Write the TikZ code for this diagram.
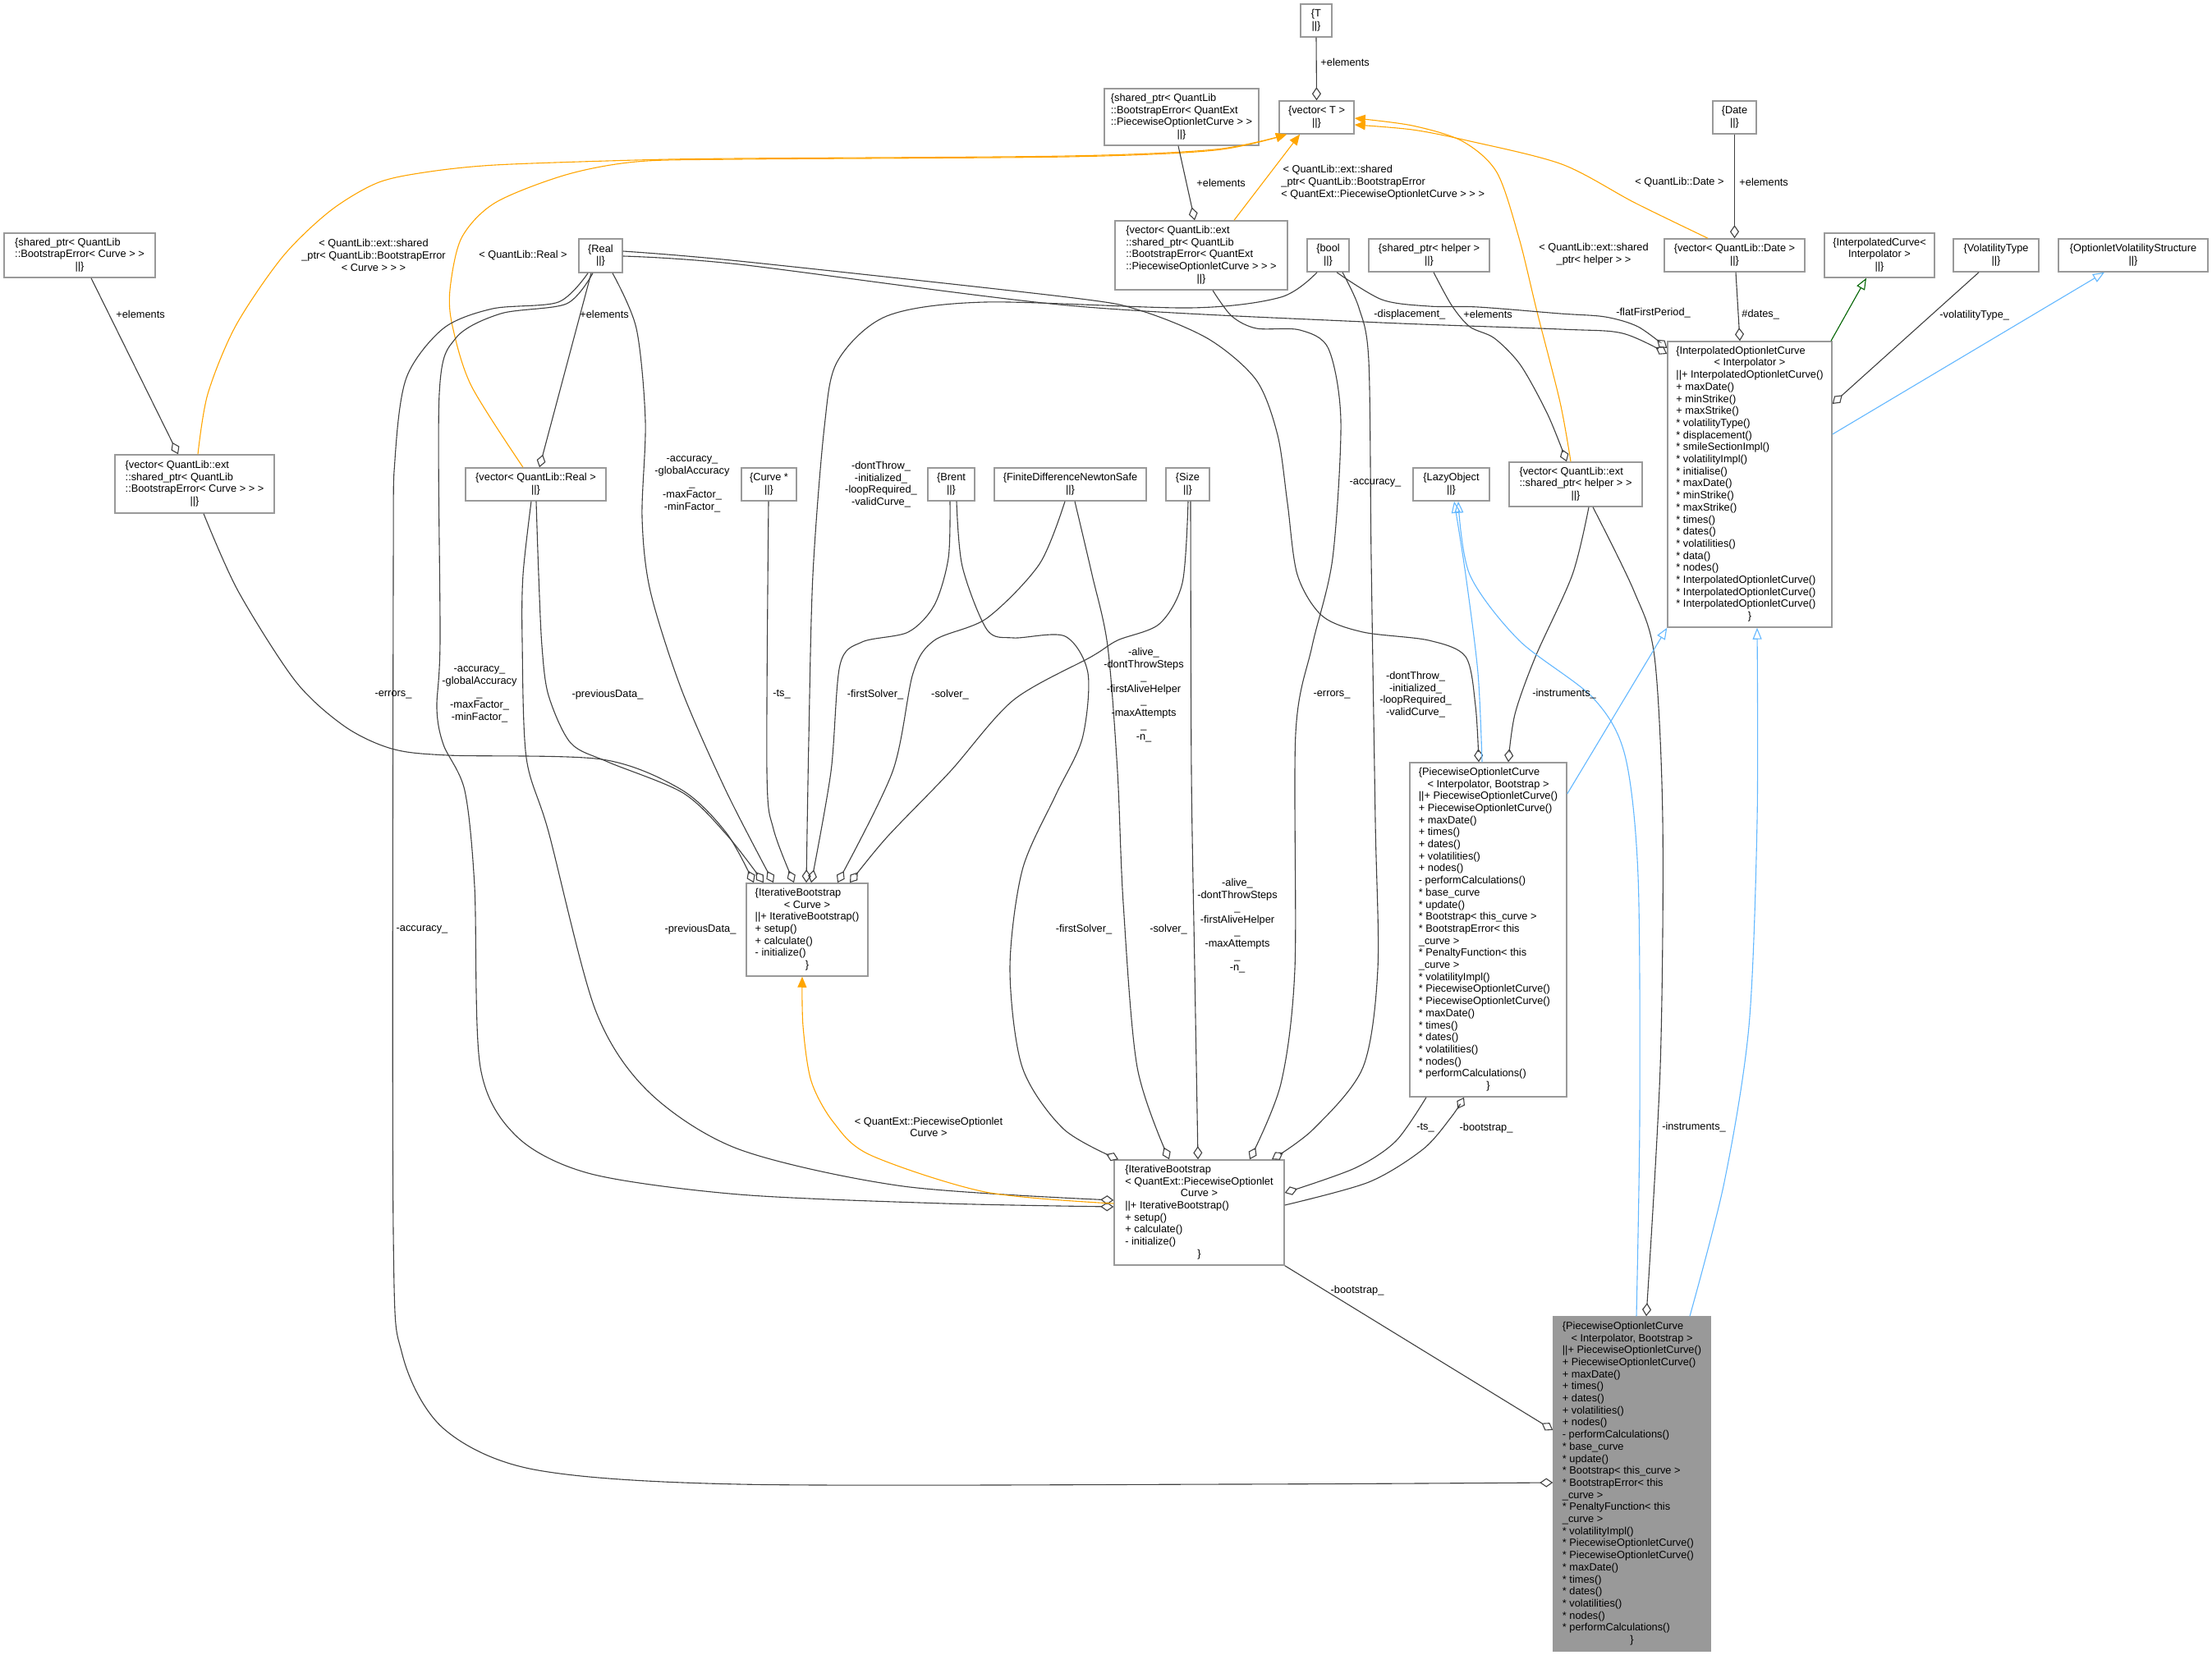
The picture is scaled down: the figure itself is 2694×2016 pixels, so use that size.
\documentclass[tikz,border=0pt]{standalone}
\usepackage{fontspec}
\setmainfont{Liberation Sans}
\usetikzlibrary{arrows.meta}
\definecolor{egray}{HTML}{404040}
\definecolor{bgray}{HTML}{999999}
\definecolor{dorange}{HTML}{FFA500}
\definecolor{lblue}{HTML}{63B8FF}
\definecolor{dgreen}{HTML}{006400}
\definecolor{mfill}{HTML}{999999}
\newcommand{\ctr}[1]{\multicolumn{1}{@{}c@{}}{#1}}
\newcommand{\mkbox}[7][]{\node[box,#1,minimum width={(#5-#3)*0.5},minimum height={(#6-#4)*0.5}] (#2) at ({(#3+#5)/2},{(#4+#6)/2}) {\begin{tabular}{@{}l@{}}#7\end{tabular}};}
\newcommand{\POCtext}{\{PiecewiseOptionletCurve\\
\ctr{< Interpolator, Bootstrap >}\\
||+ PiecewiseOptionletCurve()\\
+ PiecewiseOptionletCurve()\\
+ maxDate()\\
+ times()\\
+ dates()\\
+ volatilities()\\
+ nodes()\\
- performCalculations()\\
{}* base\_curve\\
{}* update()\\
{}* Bootstrap< this\_curve >\\
{}* BootstrapError< this\\
\_curve >\\
{}* PenaltyFunction< this\\
\_curve >\\
{}* volatilityImpl()\\
{}* PiecewiseOptionletCurve()\\
{}* PiecewiseOptionletCurve()\\
{}* maxDate()\\
{}* times()\\
{}* dates()\\
{}* volatilities()\\
{}* nodes()\\
{}* performCalculations()\\
\ctr{\}}}
\begin{document}
\begin{tikzpicture}[x=0.5pt,y=-0.5pt,
  box/.style={draw=bgray,line width=0.75pt,fill=white,inner sep=0pt,font=\fontsize{6.4}{7.35}\selectfont},
  lab/.style={inner sep=0pt,font=\fontsize{6.4}{7.35}\selectfont,align=center},
  agg/.style={draw=egray,line width=0.55pt,-{Diamond[open,length=8pt,width=5.5pt]}},
  tmpl/.style={draw=dorange,line width=0.55pt,-{Triangle[length=6.5pt,width=5.5pt,fill=dorange]}},
  inhb/.style={draw=lblue,line width=0.55pt,-{Triangle[open,length=7pt,width=5.5pt]}},
  inhg/.style={draw=dgreen,line width=0.55pt,-{Triangle[open,length=7pt,width=5.5pt]}},
  sm/.style={smooth,tension=0.5}]
\fill[white] (0,0) rectangle (2694,2016);
\useasboundingbox (0,0) rectangle (2694,2016);

% ---------- nodes ----------
\mkbox{nT}{1584}{5}{1622}{45}{\ctr{\{T}\\\ctr{||\}}}
\mkbox{nVT}{1558}{123}{1649}{163}{\ctr{\{vector< T >}\\\ctr{||\}}}
\mkbox{nSPQ}{1345}{108}{1533}{177}{\{shared\_ptr< QuantLib\\::BootstrapError< QuantExt\\::PiecewiseOptionletCurve > >\\\ctr{||\}}}
\mkbox{nDate}{2086}{123}{2139}{163}{\ctr{\{Date}\\\ctr{||\}}}
\mkbox{nSPC}{5}{284}{189}{338}{\{shared\_ptr< QuantLib\\::BootstrapError< Curve > >\\\ctr{||\}}}
\mkbox{nReal}{705}{291}{758}{332}{\ctr{\{Real}\\\ctr{||\}}}
\mkbox{nVQ}{1358}{269}{1568}{353}{\{vector< QuantLib::ext\\::shared\_ptr< QuantLib\\::BootstrapError< QuantExt\\::PiecewiseOptionletCurve > > >\\\ctr{||\}}}
\mkbox{nBool}{1592}{291}{1643}{331}{\ctr{\{bool}\\\ctr{||\}}}
\mkbox{nSPH}{1667}{291}{1814}{331}{\ctr{\{shared\_ptr< helper >}\\\ctr{||\}}}
\mkbox{nVD}{2027}{291}{2198}{331}{\ctr{\{vector< QuantLib::Date >}\\\ctr{||\}}}
\mkbox{nIC}{2222}{284}{2356}{338}{\ctr{\{InterpolatedCurve<}\\\ctr{Interpolator >}\\\ctr{||\}}}
\mkbox{nVolT}{2379}{291}{2483}{331}{\ctr{\{VolatilityType}\\\ctr{||\}}}
\mkbox{nOVS}{2507}{291}{2689}{331}{\ctr{\{OptionletVolatilityStructure}\\\ctr{||\}}}
\mkbox{nIOC}{2031}{416}{2231}{764}{\{InterpolatedOptionletCurve\\
\ctr{< Interpolator >}\\
||+ InterpolatedOptionletCurve()\\
+ maxDate()\\
+ minStrike()\\
+ maxStrike()\\
{}* volatilityType()\\
{}* displacement()\\
{}* smileSectionImpl()\\
{}* volatilityImpl()\\
{}* initialise()\\
{}* maxDate()\\
{}* minStrike()\\
{}* maxStrike()\\
{}* times()\\
{}* dates()\\
{}* volatilities()\\
{}* data()\\
{}* nodes()\\
{}* InterpolatedOptionletCurve()\\
{}* InterpolatedOptionletCurve()\\
{}* InterpolatedOptionletCurve()\\
\ctr{\}}}
\mkbox{nVC}{140}{554}{334}{625}{\{vector< QuantLib::ext\\::shared\_ptr< QuantLib\\::BootstrapError< Curve > > >\\\ctr{||\}}}
\mkbox{nVR}{567}{570}{738}{610}{\ctr{\{vector< QuantLib::Real >}\\\ctr{||\}}}
\mkbox{nCP}{903}{570}{970}{610}{\ctr{\{Curve *}\\\ctr{||\}}}
\mkbox{nBrent}{1130}{570}{1187}{610}{\ctr{\{Brent}\\\ctr{||\}}}
\mkbox{nFD}{1211}{570}{1396}{610}{\ctr{\{FiniteDifferenceNewtonSafe}\\\ctr{||\}}}
\mkbox{nSize}{1420}{570}{1473}{610}{\ctr{\{Size}\\\ctr{||\}}}
\mkbox{nLazy}{1721}{570}{1814}{610}{\ctr{\{LazyObject}\\\ctr{||\}}}
\mkbox{nVH}{1838}{563}{2000}{617}{\{vector< QuantLib::ext\\::shared\_ptr< helper > >\\\ctr{||\}}}
\mkbox{nIBC}{909}{1076}{1057}{1189}{\{IterativeBootstrap\\\ctr{< Curve >}\\||+ IterativeBootstrap()\\+ setup()\\+ calculate()\\- initialize()\\\ctr{\}}}
\mkbox{nMP}{1717}{929}{1908}{1336}{\POCtext}
\mkbox{nIBQ}{1357}{1413}{1564}{1541}{\{IterativeBootstrap\\< QuantExt::PiecewiseOptionlet\\\ctr{Curve >}\\||+ IterativeBootstrap()\\+ setup()\\+ calculate()\\- initialize()\\\ctr{\}}}
\mkbox[fill=mfill]{nMain}{1892}{1604}{2083}{2011}{\POCtext}

% ---------- connectors ----------
\draw[agg] (nT.south) -- (nVT.north);
\draw[tmpl] plot[sm] coordinates {(nVC.north -| 241,0) (253,480) (287,397) (344,313) (402,257) (459,223) (517,210) (603,201) (775,195) (900,193) (1300,190) (1480,182) (nVT.south -| 1567,0)};
\draw[tmpl] plot[sm] coordinates {(nVR.north -| 637,0) (574,470) (551,397) (548,353) (562,290) (603,247) (689,213) (775,197) (900,194) (1300,191) (1480,183) (nVT.south -| 1567,0)};
\draw[tmpl] (nVQ.north -| 1503,0) -- (nVT.south -| 1583,0);
\draw[tmpl] plot[sm] coordinates {(nVH.north -| 1913,0) (1900,490) (1872,380) (1850,290) (1823,210) (1781,172) (1720,153) (nVT.east |- 0,144)};
\draw[tmpl] plot[sm] coordinates {(nVD.north -| 2080,0) (1991,247) (1902,200) (1786,171) (1720,158) (nVT.east |- 0,152)};
\draw[agg] (nDate.south) -- (nVD.north);
\draw[agg] (nSPQ.south -| 1435,0) -- (nVQ.north -| 1455,0);
\draw[agg] (nSPC.south -| 111,0) -- (nVC.north -| 217,0);
\draw[agg] (nReal.south -| 720,0) -- (nVR.north -| 657,0);
\draw[agg] plot[sm] coordinates {(nSPH.south -| 1746,0) (1768,372) (1790,398) (1820,412) (1852,445) (1885,505) (nVH.north -| 1908,0)};
\draw[agg] (nVD.south -| 2114,0) -- (nIOC.north -| 2119,0);
\draw[inhg] (nIOC.north -| 2230,0) -- (nIC.south -| 2273,0);
\draw[agg] (nVolT.south -| 2410,0) -- (nIOC.east |- 0,492);
\draw[inhb] (nIOC.east |- 0,529) -- (nOVS.south -| 2563,0);
\draw[agg] plot[sm] coordinates {(nBool.south -| 1628,0) (1683,365) (1740,373) (1800,374) (1900,382) (1955,386) (1995,398) (nIOC.west |- 0,424)};
\draw[agg] plot[sm] coordinates {(nReal.east |- 0,312) (900,322) (1300,372) (1660,392) (1900,401) (1976,406) (nIOC.west |- 0,431)};
\draw[agg] plot[sm] coordinates {(nReal.east |- 0,306) (900,318) (1300,362) (1388,378) (1472,413) (1530,463) (1556,530) (1568,613) (1580,700) (1610,750) (1660,770) (1740,780) (1785,800) (1797,860) (nMP.north -| 1801,0)};
\draw[agg] plot[sm] coordinates {(nBool.south -| 1604,0) (1560,362) (1450,375) (1200,368) (1080,385) (1020,440) (1004,520) (990,700) (985,900) (nIBC.north -| 982,0)};
\draw[agg] plot[sm] coordinates {(nVC.south -| 248,0) (290,720) (360,830) (420,885) (477,912) (545,920) (733,925) (830,962) (885,1015) (nIBC.north -| 918,0)};
\draw[agg] plot[sm] coordinates {(nVR.south -| 653,0) (656,700) (660,787) (668,847) (695,905) (740,928) (832,966) (886,1018) (nIBC.north -| 930,0)};
\draw[agg] plot[sm] coordinates {(nReal.south -| 746,0) (775,400) (786,513) (782,630) (792,720) (830,840) (885,965) (nIBC.north -| 942,0)};
\draw[agg] plot[sm] coordinates {(nCP.south -| 936,0) (934,940) (942,1010) (nIBC.north -| 967,0)};
\draw[agg] plot[sm] coordinates {(nBrent.south -| 1157,0) (1155,680) (1138,737) (1106,770) (1050,782) (1023,810) (1012,940) (nIBC.north -| 988,0)};
\draw[agg] plot[sm] coordinates {(nFD.south -| 1297,0) (1266,687) (1202,753) (1138,780) (1112,820) (1087,940) (nIBC.north -| 1020,0)};
\draw[agg] plot[sm] coordinates {(nSize.south -| 1447,0) (1440,710) (1412,760) (1361,780) (1329,800) (1234,853) (1157,940) (1080,1020) (nIBC.north -| 1035,0)};
\draw[agg] plot[sm] coordinates {(nBrent.south -| 1165,0) (1172,690) (1202,767) (1234,777) (1297,775) (1325,820) (1318,900) (1285,970) (1245,1060) (1230,1180) (1245,1300) (1295,1375) (nIBQ.north -| 1362,0)};
\draw[agg] plot[sm] coordinates {(nFD.south -| 1309,0) (1330,700) (1349,787) (1361,940) (1368,1100) (1385,1300) (nIBQ.north -| 1424,0)};
\draw[agg] plot[sm] coordinates {(nSize.south -| 1450,0) (1451,940) (1455,1180) (nIBQ.north -| 1459,0)};
\draw[agg] plot[sm] coordinates {(nVQ.south -| 1477,0) (1500,385) (1530,400) (1583,402) (1618,425) (1633,513) (1623,680) (1598,787) (1578,893) (1577,1180) (1560,1320) (nIBQ.north -| 1522,0)};
\draw[agg] plot[sm] coordinates {(nBool.south -| 1635,0) (1655,375) (1667,440) (1670,680) (1675,1000) (1678,1180) (1660,1300) (1600,1375) (nIBQ.north -| 1549,0)};
\draw[agg] plot[sm] coordinates {(nReal.south -| 722,0) (690,370) (610,382) (555,412) (535,480) (536,780) (532,863) (540,907) (566,963) (578,1080) (585,1300) (630,1385) (720,1430) (900,1455) (1150,1466) (nIBQ.west |- 0,1470)};
\draw[agg] plot[sm] coordinates {(nVR.south -| 647,0) (637,700) (636,780) (641,923) (668,1013) (725,1230) (790,1330) (900,1400) (1100,1445) (nIBQ.west |- 0,1462)};
\draw[tmpl] plot[sm] coordinates {(nIBQ.west |- 0,1466) (1200,1452) (1060,1407) (1015,1367) (988,1317) (978,1250) (nIBC.south -| 977,0)};
\draw[agg] plot[sm] coordinates {(nMP.south -| 1737,0) (1700,1390) (1650,1423) (nIBQ.east |- 0,1453)};
\draw[agg] plot[sm] coordinates {(nIBQ.east |- 0,1468) (1667,1440) (1733,1400) (1768,1360) (nMP.south -| 1783,0)};
\draw[agg] (nIBQ.south east) -- (nMain.west |- 0,1742);
\draw[agg] plot[sm] coordinates {(nReal.south -| 716,0) (680,368) (600,376) (540,400) (495,460) (481,560) (479,700) (479,1500) (490,1650) (540,1740) (650,1790) (900,1808) (1500,1808) (nMain.west |- 0,1806)};
\draw[agg] plot[sm] coordinates {(nVH.south -| 1935,0) (1915,700) (1870,800) (1845,870) (nMP.north -| 1837,0)};
\draw[agg] plot[sm] coordinates {(nVH.south -| 1940,0) (1990,720) (2015,800) (2025,1000) (2022,1300) (nMain.north -| 2005,0)};
\draw[inhb] plot[sm] coordinates {(nMP.north -| 1805,0) (1800,820) (1785,700) (nLazy.south -| 1771,0)};
\draw[inhb] plot[sm] coordinates {(nMain.north -| 1993,0) (1997,1360) (1995,1067) (1979,920) (1940,850) (1850,780) (1790,700) (nLazy.south -| 1776,0)};
\draw[inhb] (nMP.east |- 0,967) -- (nIOC.south west);
\draw[inhb] plot[sm] coordinates {(nMain.north -| 2058,0) (2100,1440) (2130,1250) (2140,1000) (nIOC.south -| 2140,0)};

% ---------- labels ----------
\node[lab,anchor=west] (l1) at (1608,76) {+elements};
\node[lab,anchor=west] (l2) at (1457,223) {+elements};
\node[lab,anchor=west,align=left] (l3) at (1560,222) {\,< QuantLib::ext::shared\\\_ptr< QuantLib::BootstrapError\\< QuantExt::PiecewiseOptionletCurve > > >};
\node[lab,anchor=east] (l4) at (2100,222) {< QuantLib::Date >};
\node[lab,anchor=west] (l5) at (2118,222) {+elements};
\node[lab] (l6) at (1941,310) {< QuantLib::ext::shared\\\_ptr< helper > >};
\node[lab,anchor=west] (l7) at (1968,381) {-flatFirstPeriod\_};
\node[lab,anchor=west] (l8) at (2121,383) {\#dates\_};
\node[lab,anchor=west] (l9) at (2362,384) {-volatilityType\_};
\node[lab,anchor=west] (l10) at (1673,383) {-displacement\_};
\node[lab,anchor=west] (l11) at (1782,383) {+elements};
\node[lab] (l12) at (455,311) {< QuantLib::ext::shared\\\_ptr< QuantLib::BootstrapError\\< Curve > > >};
\node[lab] (l13) at (637,311) {< QuantLib::Real >};
\node[lab,anchor=west] (l14) at (706,383) {+elements};
\node[lab,anchor=west] (l15) at (141,383) {+elements};
\node[lab] (l16) at (843,590) {-accuracy\_\\-globalAccuracy\\\_\\-maxFactor\_\\-minFactor\_};
\node[lab] (l17) at (1073,590) {-dontThrow\_\\-initialized\_\\-loopRequired\_\\-validCurve\_};
\node[lab] (l18) at (479,846) {-errors\_};
\node[lab] (l19) at (584,846) {-accuracy\_\\-globalAccuracy\\\_\\-maxFactor\_\\-minFactor\_};
\node[lab] (l20) at (740,846) {-previousData\_};
\node[lab] (l21) at (952,846) {-ts\_};
\node[lab] (l22) at (1066,846) {-firstSolver\_};
\node[lab] (l23) at (1157,846) {-solver\_};
\node[lab] (l24) at (1393,847) {-alive\_\\-dontThrowSteps\\\_\\-firstAliveHelper\\\_\\-maxAttempts\\\_\\-n\_};
\node[lab] (l25) at (1622,846) {-errors\_};
\node[lab] (l26) at (1724,846) {-dontThrow\_\\-initialized\_\\-loopRequired\_\\-validCurve\_};
\node[lab] (l27) at (1905,845) {-instruments\_};
\node[lab] (l28) at (1675,588) {-accuracy\_};
\node[lab] (l29) at (514,1132) {-accuracy\_};
\node[lab] (l30) at (853,1132) {-previousData\_};
\node[lab] (l31) at (1320,1132) {-firstSolver\_};
\node[lab] (l32) at (1423,1132) {-solver\_};
\node[lab] (l33) at (1507,1128) {-alive\_\\-dontThrowSteps\\\_\\-firstAliveHelper\\\_\\-maxAttempts\\\_\\-n\_};
\node[lab] (l34) at (1131,1373) {< QuantExt::PiecewiseOptionlet\\Curve >};
\node[lab] (l35) at (1736,1374) {-ts\_};
\node[lab] (l36) at (1810,1374) {-bootstrap\_};
\node[lab] (l37) at (2063,1373) {-instruments\_};
\node[lab] (l38) at (1653,1572) {-bootstrap\_};
\end{tikzpicture}
\end{document}
